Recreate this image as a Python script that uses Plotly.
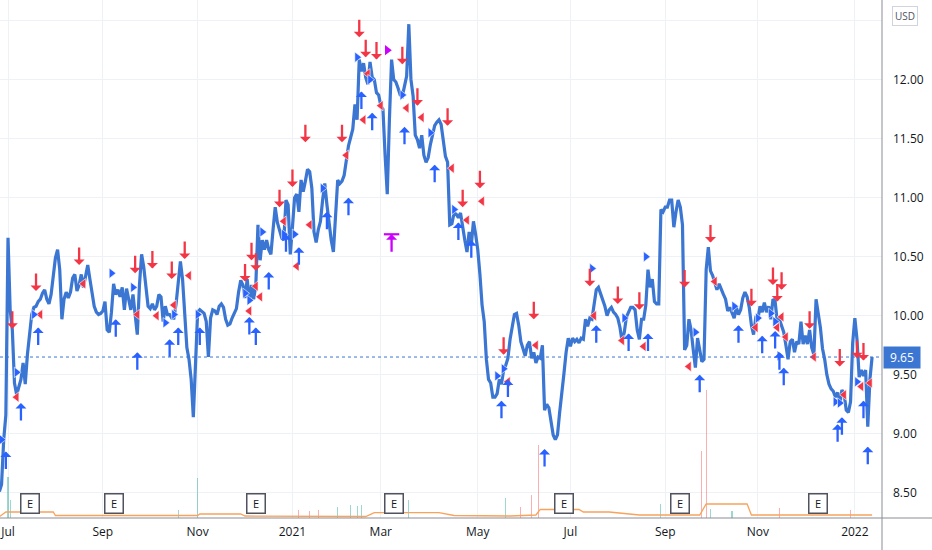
import pandas as pd
import plotly.graph_objects as go

# daily closes, one per business day starting 2020-06-25
start = "2020-06-25"
close = [
    8.51, 8.57, 8.95, 9.16, 10.66, 10.05, 9.88, 9.43, 9.33, 9.39,
    9.46, 9.60, 9.42, 9.67, 9.84, 10.01, 10.07, 10.08, 10.12, 10.14,
    10.19, 10.22, 10.14, 10.10, 10.18, 10.33, 10.49, 10.56, 10.39, 9.97,
    10.14, 10.20, 10.15, 10.20, 10.32, 10.35, 10.21, 10.26, 10.35, 10.24,
    10.35, 10.43, 10.31, 10.19, 10.08, 10.03, 10.01, 10.02, 10.04, 10.12,
    9.88, 9.86, 10.03, 10.27, 10.18, 10.22, 10.16, 10.24, 10.05, 10.23,
    10.14, 10.05, 10.18, 9.99, 9.84, 10.26, 10.52, 10.41, 10.22, 10.08,
    10.06, 10.10, 10.05, 10.08, 10.18, 10.16, 9.95, 10.08, 10.01, 10.01,
    9.98, 9.98, 10.10, 10.31, 10.46, 10.31, 10.01, 9.73, 9.63, 9.46,
    9.14, 9.67, 10.03, 10.05, 10.03, 10.02, 9.95, 9.65, 9.98, 10.05,
    10.04, 10.01, 10.08, 10.10, 10.07, 9.97, 9.92, 9.93, 9.98, 10.02,
    10.06, 10.20, 10.30, 10.26, 10.15, 10.31, 10.11, 10.26, 10.14, 10.26,
    10.77, 10.47, 10.64, 10.56, 10.64, 10.56, 10.52, 10.73, 10.92, 10.79,
    10.73, 10.66, 10.64, 10.98, 10.94, 10.52, 10.75, 11.00, 11.03, 10.88,
    11.15, 11.05, 11.14, 11.24, 11.22, 11.08, 10.71, 10.62, 10.73, 10.80,
    10.98, 11.12, 10.94, 10.77, 10.64, 10.54, 10.86, 11.15, 11.12, 11.14,
    11.19, 11.32, 11.44, 11.51, 11.58, 11.79, 11.66, 12.17, 12.07, 12.14,
    12.02, 11.96, 12.15, 12.02, 12.00, 11.89, 11.87, 11.78, 11.75, 11.36,
    11.03, 11.66, 12.17, 12.00, 11.98, 11.93, 11.87, 11.86, 11.95, 12.03,
    12.47, 12.00, 11.86, 11.53, 11.49, 11.42, 11.53, 11.36, 11.30, 11.34,
    11.45, 11.53, 11.61, 11.64, 11.66, 11.62, 11.49, 11.35, 11.30, 10.77,
    10.78, 10.87, 10.86, 10.83, 10.87, 10.74, 10.64, 10.54, 10.71, 10.60,
    10.80, 10.69, 10.56, 10.35, 10.09, 9.95, 9.63, 9.46, 9.43, 9.31,
    9.31, 9.34, 9.46, 9.42, 9.54, 9.58, 9.64, 9.80, 9.92, 10.01,
    10.02, 9.92, 9.78, 9.71, 9.66, 9.75, 9.78, 9.64, 9.69, 9.60,
    9.65, 9.64, 9.75, 9.20, 9.25, 9.22, 9.08, 8.99, 8.95, 8.99,
    9.18, 9.33, 9.51, 9.69, 9.81, 9.74, 9.81, 9.78, 9.80, 9.77,
    9.81, 9.80, 9.97, 9.91, 9.98, 9.97, 10.09, 10.22, 10.24, 10.19,
    10.14, 10.08, 10.00, 10.05, 10.07, 10.03, 10.01, 9.98, 9.90, 9.78,
    9.86, 9.99, 10.03, 10.07, 10.07, 10.05, 9.88, 9.80, 9.97, 9.97,
    10.09, 10.39, 10.24, 10.31, 10.12, 10.10, 10.10, 10.90, 10.88, 10.92,
    10.92, 10.98, 10.98, 10.75, 10.88, 10.98, 10.92, 10.77, 9.71, 9.75,
    9.97, 9.88, 9.71, 9.56, 9.81, 9.72, 9.61, 9.63, 10.39, 10.58,
    10.38, 10.34, 10.27, 10.22, 10.27, 10.22, 10.18, 10.14, 10.04, 10.07,
    10.03, 9.98, 10.07, 10.01, 10.05, 10.15, 10.20, 10.16, 10.07, 9.92,
    9.84, 9.98, 9.97, 10.08, 10.03, 10.11, 10.03, 10.08, 9.97, 10.14,
    10.12, 9.95, 9.97, 9.91, 9.86, 9.75, 9.63, 9.78, 9.80, 9.69,
    9.78, 9.76, 9.95, 9.76, 9.83, 9.76, 9.88, 9.73, 9.67, 10.14,
    10.03, 9.90, 9.72, 9.63, 9.50, 9.42, 9.38, 9.36, 9.31, 9.35,
    9.25, 9.37, 9.34, 9.20, 9.18, 9.27, 9.77, 9.98, 9.80, 9.48,
    9.54, 9.49, 9.54, 9.06, 9.46, 9.65,
]
dates = pd.bdate_range(start, periods=len(close))

# signals: bar index + price of the marker
sell_idx = [6, 17, 37, 63, 71, 80, 86, 114, 117, 119, 130, 136, 142, 159, 167, 170, 175, 187, 194,
            208, 215, 223, 234, 248, 274, 287, 297, 318, 330, 349, 359, 361, 363, 376, 390, 398, 401]
sell_px = [9.89, 10.21, 10.43, 10.36, 10.40, 10.31, 10.48, 10.29, 10.47, 10.38, 10.92, 11.09, 11.47,
           11.47, 12.36, 12.19, 12.17, 12.13, 11.78, 11.61, 10.92, 11.08, 9.67, 9.97, 10.25, 10.10,
           10.05, 10.24, 10.62, 10.08, 10.26, 10.12, 10.22, 9.89, 9.57, 9.64, 9.62]

buy_idx = [3, 10, 18, 54, 64, 79, 83, 93, 116, 119, 125, 133, 139, 152, 162, 168, 173, 188, 202,
           213, 219, 233, 236, 253, 277, 292, 301, 325, 343, 354, 360, 362, 364, 389, 391, 401, 403]
buy_px = [8.85, 9.26, 9.90, 9.97, 9.69, 9.80, 9.90, 9.90, 9.99, 9.90, 10.37, 10.69, 10.58, 10.88,
          11.00, 11.90, 11.72, 11.60, 11.28, 10.79, 10.64, 9.28, 9.46, 8.87, 9.92, 9.85, 9.85, 9.50,
          9.92, 9.83, 9.87, 9.69, 9.56, 9.08, 9.14, 9.28, 8.89]

exit_l_idx = [8, 19, 39, 64, 73, 81, 88, 116, 119, 121, 132, 138, 144, 161, 169, 171, 177, 189, 196,
              210, 217, 224, 236, 249, 276, 289, 299, 320, 332, 351, 361, 363, 365, 378, 392, 400, 404]
exit_l_px = [9.31, 10.01, 10.27, 10.01, 10.00, 10.09, 10.34, 10.04, 10.25, 10.16, 10.80, 10.42, 10.77,
             11.36, 11.66, 12.05, 11.78, 11.76, 11.68, 11.25, 10.81, 10.97, 9.44, 9.75, 10.00, 9.79,
             9.74, 9.57, 10.29, 9.90, 9.90, 9.99, 9.82, 9.65, 9.33, 9.40, 9.43]

exit_s_idx = [1, 8, 16, 52, 62, 77, 81, 92, 114, 116, 122, 132, 137, 150, 166, 172, 187, 200, 211,
              231, 234, 275, 290, 300, 323, 341, 352, 358, 360, 362, 388, 390, 398]
exit_s_px = [8.95, 9.52, 10.01, 10.36, 10.24, 9.94, 10.01, 10.01, 10.19, 10.13, 10.71, 10.69, 10.69,
             11.08, 12.19, 12.00, 11.87, 11.55, 10.90, 9.49, 9.55, 10.40, 9.98, 10.50, 9.86, 10.08,
             9.98, 10.02, 9.95, 9.66, 9.27, 9.26, 9.44]

special_idx = [180, 182]
special_px = [12.25, 10.69]

earnings_idx = [14, 53, 119, 183, 262, 316, 380]

# volume (thousands), only the visible bars
vol_up_idx = [4, 5, 83, 92, 157, 163, 166, 168, 190, 235, 307, 330, 340]
vol_up = [410, 180, 80, 400, 110, 130, 120, 130, 180, 200, 140, 90, 70]
vol_dn_idx = [139, 144, 148, 242, 247, 250, 326, 328, 362, 395]
vol_dn = [80, 70, 80, 110, 230, 730, 670, 1280, 100, 80]
vol_ma_idx = [0, 3, 25, 26, 92, 93, 112, 114, 170, 174, 204, 211, 237, 249, 251, 269, 271, 283,
              297, 325, 328, 347, 349, 405]
vol_ma = [13, 60, 60, 25, 25, 40, 40, 20, 15, 53, 53, 25, 20, 30, 87, 85, 60, 60, 30, 30, 140, 140, 30, 30]

tick_dates = ["2020-07-01", "2020-09-01", "2020-11-02", "2021-01-01", "2021-03-01",
              "2021-05-03", "2021-07-01", "2021-09-01", "2021-11-01", "2022-01-03"]
tick_text = ["Jul", "Sep", "Nov", "2021", "Mar", "May", "Jul", "Sep", "Nov", "2022"]
price_ticks = [8.5, 9.0, 9.5, 10.0, 10.5, 11.0, 11.5, 12.0, 12.5]
price_text = ["8.50", "9.00", "9.50", "10.00", "10.50", "11.00", "11.50", "12.00", ""]

LINE = "#3a76d2"
RED = "#f23645"
BLUE = "#2962ff"
MAGENTA = "#cc00ff"
GRID = "#eef1f6"
TEXT = "#131722"
FONT = "Open Sans"

fig = go.Figure()

# volume
fig.add_trace(go.Bar(x=[dates[i] for i in vol_up_idx], y=vol_up, yaxis="y2",
                     marker=dict(color="rgba(38,166,154,0.45)", line=dict(width=0)),
                     width=0.5 * 86400000))
fig.add_trace(go.Bar(x=[dates[i] for i in vol_dn_idx], y=vol_dn, yaxis="y2",
                     marker=dict(color="rgba(239,83,80,0.45)", line=dict(width=0)),
                     width=0.5 * 86400000))
fig.add_trace(go.Scatter(x=[dates[i] for i in vol_ma_idx], y=vol_ma, yaxis="y2", mode="lines",
                         line=dict(color="#f7a35c", width=1.3)))

# price
fig.add_trace(go.Scatter(x=dates, y=close, mode="lines", line=dict(color=LINE, width=3.2)))

fig.add_trace(go.Scatter(x=[dates[i] for i in exit_l_idx], y=exit_l_px, mode="markers",
                         marker=dict(symbol="triangle-left", size=9, color=RED,
                                     line=dict(color="white", width=0.6))))
fig.add_trace(go.Scatter(x=[dates[i] for i in exit_s_idx], y=exit_s_px, mode="markers",
                         marker=dict(symbol="triangle-right", size=9, color=BLUE,
                                     line=dict(color="white", width=0.6))))
fig.add_trace(go.Scatter(x=[dates[special_idx[0]]], y=[special_px[0]], mode="markers",
                         marker=dict(symbol="triangle-right", size=9, color=MAGENTA)))
fig.add_trace(go.Scatter(x=[dates[special_idx[1]]], y=[special_px[1]], mode="markers",
                         marker=dict(symbol="line-ew", size=11, line=dict(color=MAGENTA, width=2.2))))

ann = []


def arrow(i, p, color, up):
    return dict(x=dates[i], y=p, xref="x", yref="y", text="", showarrow=True,
                ax=0, ay=18 if up else -18, arrowhead=1, arrowsize=0.8, arrowwidth=2.3,
                arrowcolor=color, font=dict(size=1), borderpad=0)


for i, p in zip(sell_idx, sell_px):
    ann.append(arrow(i, p, RED, False))
for i, p in zip(buy_idx, buy_px):
    ann.append(arrow(i, p, BLUE, True))
ann.append(arrow(special_idx[1], special_px[1], MAGENTA, True))

for i in earnings_idx:
    ann.append(dict(x=dates[i], y=0, xref="x", yref="paper", yanchor="bottom", yshift=4,
                    text="E", showarrow=False, font=dict(family=FONT, size=11, color=TEXT),
                    bgcolor="white", bordercolor="#50535e", borderwidth=1.5, borderpad=2,
                    width=13, height=14))

ann.append(dict(x=1, xref="paper", xanchor="left", xshift=1, y=close[-1], yref="y",
                text="%.2f" % close[-1], showarrow=False, bgcolor=LINE, borderpad=2,
                font=dict(family=FONT, size=12, color="white"), width=32))
ann.append(dict(x=1, xref="paper", xanchor="left", xshift=10, y=1, yref="paper", yanchor="top",
                yshift=-6, text="USD", showarrow=False, bordercolor="#d1d4dc", borderwidth=1,
                borderpad=2, font=dict(family=FONT, size=10, color="#50535e")))

shapes = [
    dict(type="line", xref="paper", yref="y", x0=0, x1=1, y0=close[-1], y1=close[-1],
         line=dict(color=LINE, width=1, dash="dot")),
    dict(type="line", xref="paper", yref="paper", x0=1, x1=1, y0=-0.07, y1=1,
         line=dict(color="#8a8d96", width=1)),
    dict(type="line", xref="paper", yref="paper", x0=0, x1=1.06, y0=0, y1=0,
         line=dict(color="#8a8d96", width=1)),
]

fig.update_layout(
    width=932, height=550,
    margin=dict(l=0, r=50, t=0, b=32),
    plot_bgcolor="white", paper_bgcolor="white",
    showlegend=False, hovermode=False, bargap=0,
    font=dict(family=FONT, color=TEXT),
    annotations=ann, shapes=shapes,
    xaxis=dict(
        type="date",
        range=["2020-06-25 06:43", "2022-01-19 14:24"],
        rangebreaks=[dict(bounds=["sat", "mon"])],
        tickvals=tick_dates, ticktext=tick_text,
        showgrid=True, gridcolor=GRID, zeroline=False, showline=False,
        ticks="", ticklabelstandoff=5,
        tickfont=dict(family=FONT, size=12, color=TEXT),
    ),
    yaxis=dict(
        side="right", range=[8.286, 12.675],
        tickvals=price_ticks, ticktext=price_text,
        showgrid=True, gridcolor=GRID, zeroline=False, showline=False,
        ticks="", ticklabelstandoff=10,
        tickfont=dict(family=FONT, size=12, color=TEXT),
    ),
    yaxis2=dict(overlaying="y", range=[0, 5180], visible=False),
)

# page body has a default margin; drop it so the figure sits at the window corner
fig.write_html("out.html", config={"displayModeBar": False},
               post_script="document.body.style.margin='0';")
